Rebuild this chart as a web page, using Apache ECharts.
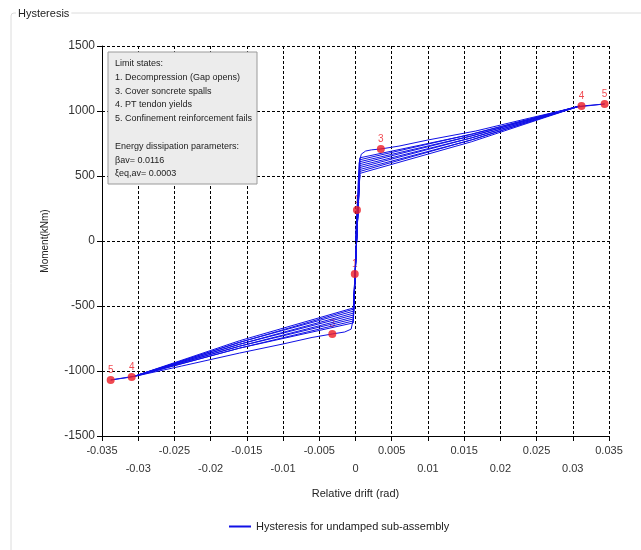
<!DOCTYPE html>
<html>
<head>
<meta charset="utf-8">
<script src="https://cdn.jsdelivr.net/npm/echarts@6/dist/echarts.min.js"></script>
<style>
  html, body { margin: 0; padding: 0; background: #ffffff; }
  #chart { width: 641px; height: 550px; }
</style>
</head>
<body>
<div id="chart"></div>
<script>
// Moment–drift history of the undamped sub-assembly (drift in rad, moment in kNm)
const drift = [
  0, 0.0002, 0.0005, 0.0008, 0.0014, 0.0022, 0.0035, 0.0060, 0.0100, 0.0166, 0.0240, 0.0312, 0.0344,
  0.0305, 0.0160, 0.0006,
  -0.0003, -0.0006, -0.0015, -0.0032, -0.0060, -0.0100, -0.0160, -0.0240, -0.0309, -0.0338,
  -0.0300, -0.0160, -0.0003,
  0.0006, 0.0160, 0.0310, 0.0160, 0.0006,
  -0.0003, -0.0160, -0.0305, -0.0160, -0.0003,
  0.0006, 0.0160, 0.0308, 0.0160, 0.0006,
  -0.0003, -0.0160, -0.0303, -0.0160, -0.0003,
  0.0006, 0.0160, 0.0306, 0.0160, 0.0006,
  -0.0003, -0.0160, -0.0301, -0.0160, -0.0003,
  0.0006, 0.0160, 0.0304, 0.0160, 0.0006,
  -0.0003, -0.0160, -0.0299, -0.0160, -0.0003,
  0.0006, 0.0002, 0
];
const moment = [
  0, 238, 600, 668, 692, 701, 708, 730, 777, 846, 945, 1038, 1054,
  1030, 820, 640,
  -600, -678, -700, -715, -742, -792, -862, -962, -1046, -1069,
  -1035, -824, -630,
  625, 822, 1040, 808, 610,
  -615, -824, -1040, -809, -600,
  595, 808, 1036, 793, 580,
  -585, -809, -1036, -794, -570,
  565, 793, 1032, 777, 550,
  -555, -794, -1032, -779, -540,
  535, 778, 1028, 763, 520,
  -525, -780, -1028, -767, -515,
  508, 200, 0
];

// Limit-state points reached during the test
const markerDrift  = [0.0002, 0.0035, 0.0312, 0.0344, -0.0001, -0.0032, -0.0309, -0.0338];
const markerMoment = [238, 708, 1038, 1054, -254, -715, -1046, -1069];
const markerLabels = ['1', '3', '4', '5', '1', '3', '4', '5'];

// Axis ranges and tick steps
const driftMin = -0.035, driftMax = 0.035, driftStep = 0.005;
const momentMin = -1500, momentMax = 1500, momentStep = 500;

// Text of the note box
const noteLines = [
  'Limit states:',
  '1. Decompression (Gap opens)',
  '3. Cover soncrete spalls',
  '4. PT tendon yields',
  '5. Confinement reinforcement fails',
  '',
  'Energy dissipation parameters:',
  'βav= 0.0116',
  'ξeq,av= 0.0003'
];

const seriesName = 'Hysteresis for undamped sub-assembly';
const panelTitle = 'Hysteresis';

const loopData = drift.map((x, i) => [x, moment[i]]);
const markerData = markerDrift.map((x, i) => [x, markerMoment[i], markerLabels[i]]);

const red = '#ec1c24';
const blue = '#1010e6';
const font = 'Liberation Sans, Arial, sans-serif';

const chart = echarts.init(document.getElementById('chart'), null, { renderer: 'canvas' });

const noteText = noteLines.map((s, i) => ({
  type: 'text',
  left: 115,
  top: 59 + i * 13.8,
  style: { text: s, font: '9px ' + font, fill: '#222' },
  z: 101
}));

chart.setOption({
  animation: false,
  backgroundColor: '#ffffff',
  grid: { left: 102, right: 32, top: 46, bottom: 114 },
  xAxis: {
    type: 'value',
    min: driftMin, max: driftMax, interval: driftStep,
    name: 'Relative drift (rad)',
    nameLocation: 'middle',
    nameGap: 52,
    nameTextStyle: { fontFamily: font, fontSize: 11, color: '#222' },
    axisLine: { onZero: false, lineStyle: { color: '#000', width: 1 } },
    axisTick: { show: true, length: 5, lineStyle: { color: '#000' } },
    axisLabel: {
      fontFamily: font, fontSize: 11, color: '#333', margin: 6, lineHeight: 18,
      showMinLabel: true, showMaxLabel: true,
      formatter: (v, idx) => {
        const t = String(parseFloat(v.toFixed(4)));
        return idx % 2 ? '\n' + t : t;
      }
    },
    splitLine: { show: true, showMinLine: true, showMaxLine: true,
      lineStyle: { color: '#000', width: 1, type: [3, 2] } }
  },
  yAxis: {
    type: 'value',
    min: momentMin, max: momentMax, interval: momentStep,
    name: 'Moment(kNm)',
    nameLocation: 'middle',
    nameGap: 52,
    nameTextStyle: { fontFamily: font, fontSize: 10, color: '#222' },
    axisLine: { show: true, onZero: false, lineStyle: { color: '#000', width: 1 } },
    axisTick: { show: true, length: 5, lineStyle: { color: '#000' } },
    axisLabel: { fontFamily: font, fontSize: 12, color: '#333', margin: 7, formatter: v => String(v) },
    splitLine: { show: true, showMinLine: true, showMaxLine: true,
      lineStyle: { color: '#000', width: 1, type: [3, 2] } }
  },
  legend: {
    data: [{ name: seriesName, icon: 'rect' }],
    left: 224,
    top: 516,
    itemWidth: 22,
    itemHeight: 2,
    itemGap: 6,
    itemStyle: { color: blue },
    textStyle: { fontFamily: font, fontSize: 11, color: '#222' }
  },
  series: [
    {
      // limit-state numbers sit beneath the curve
      name: 'labels',
      type: 'scatter',
      data: markerData,
      symbolSize: 0,
      z: 1,
      silent: true,
      label: {
        show: true, position: 'top', distance: 5,
        formatter: p => p.data[2],
        color: red, fontFamily: font, fontSize: 10
      }
    },
    {
      name: seriesName,
      type: 'line',
      data: loopData,
      showSymbol: false,
      symbol: 'none',
      z: 2,
      lineStyle: { color: blue, width: 1 },
      itemStyle: { color: blue }
    },
    {
      name: 'points',
      type: 'scatter',
      data: markerData,
      symbolSize: 8,
      z: 3,
      itemStyle: { color: red }
    }
  ],
  graphic: [
    {
      type: 'rect',
      shape: { x: 11, y: 13, width: 660, height: 600, r: 3 },
      style: { fill: 'none', stroke: '#dcdcdc', lineWidth: 1 },
      z: 100, silent: true
    },
    {
      type: 'text',
      left: 16, top: 8,
      style: { text: panelTitle, font: '11px ' + font, fill: '#222',
        backgroundColor: '#fff', padding: [0, 2] },
      z: 101
    },
    {
      type: 'rect',
      shape: { x: 108, y: 52, width: 149, height: 132 },
      style: { fill: '#ececec', stroke: '#9a9a9a', lineWidth: 1 },
      z: 100
    },
    ...noteText
  ]
});
</script>
</body>
</html>
